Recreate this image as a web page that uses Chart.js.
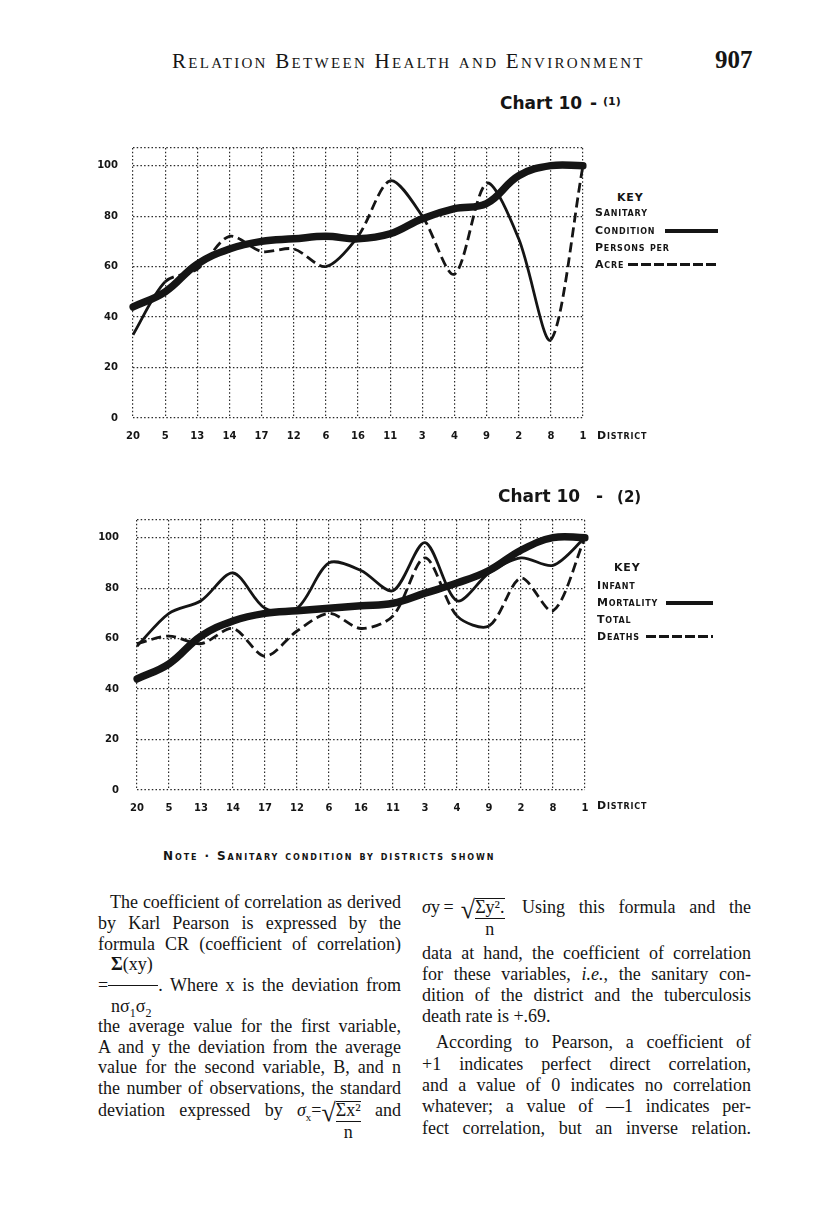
<!DOCTYPE html>
<html>
<head>
<meta charset="utf-8">
<script src="https://cdn.jsdelivr.net/npm/chart.js@4.4.1/dist/chart.umd.min.js"></script>
<style>
body { margin:0; background:#fff; }
#page { position:relative; width:816px; height:1231px; overflow:hidden; color:#151515; font-family:'Liberation Serif', serif; }
.abs { position:absolute; white-space:nowrap; }
canvas { position:absolute; }
.runhead { left:172px; top:49px; font-size:21px; font-variant:small-caps; letter-spacing:2.3px; }
.folio { left:715px; top:46px; font-size:25px; font-weight:bold; }
.title { font-family:'DejaVu Sans', sans-serif; font-weight:bold; font-size:17px; }
.title small { font-size:11px; vertical-align:4px; }
.key { font-family:'DejaVu Sans', sans-serif; font-weight:bold; font-size:11px; font-variant:small-caps; letter-spacing:0.8px; line-height:12px; }
.thick { position:absolute; height:4px; background:#151515; }
.dash { position:absolute; height:3px; background:repeating-linear-gradient(90deg,#151515 0 10px,transparent 10px 13px); }
.ln { position:absolute; height:20px; line-height:20px; font-size:18px; white-space:nowrap; }
.ln.l { left:98px; width:303px; }
.ln.r { left:422px; width:329px; }
.rule { display:inline-block; width:50px; border-top:1.6px solid #151515; vertical-align:5px; }
.root { font-size:26px; vertical-align:-5px; }
.over { position:relative; border-top:1.3px solid #151515; line-height:16px; display:inline-block; }
.den { position:absolute; left:0; right:0; top:19px; height:18px; line-height:20px; text-align:center; border-top:1.3px solid #151515; }
</style>
</head>
<body>
<div id="page">
  <div class="abs runhead">Relation Between Health and Environment</div>
  <div class="abs folio">907</div>

  <div class="abs title" style="left:500px; top:93px;">Chart 10 <span style="margin-left:2px">-</span> <small>(1)</small></div>
  <canvas id="chart1" width="510" height="333" style="left:90px; top:127px;"></canvas>
  <div class="abs key" style="left:617px; top:192px;">KEY</div>
  <div class="abs key" style="left:595px; top:207px;">Sanitary</div>
  <div class="abs key" style="left:595px; top:225px;">Condition</div>
  <div class="thick" style="left:665px; top:229px; width:53px;"></div>
  <div class="abs key" style="left:595px; top:242px;">Persons per</div>
  <div class="abs key" style="left:595px; top:259px;">Acre</div>
  <div class="dash" style="left:628px; top:263px; width:90px;"></div>
  <div class="abs key" style="left:597px; top:430px;">District</div>

  <div class="abs title" style="left:498px; top:486px;">Chart 10 <span style="margin-left:10px">-</span> <span style="margin-left:8px; font-size:15px">(2)</span></div>
  <canvas id="chart2" width="508" height="336" style="left:94px; top:496px;"></canvas>
  <div class="abs key" style="left:614px; top:562px;">KEY</div>
  <div class="abs key" style="left:597px; top:580px;">Infant</div>
  <div class="abs key" style="left:597px; top:597px;">Mortality</div>
  <div class="thick" style="left:666px; top:601px; width:47px;"></div>
  <div class="abs key" style="left:597px; top:614px;">Total</div>
  <div class="abs key" style="left:597px; top:631px;">Deaths</div>
  <div class="dash" style="left:646px; top:635px; width:67px;"></div>
  <div class="abs key" style="left:597px; top:800px;">District</div>

  <div class="abs key" style="left:163px; top:850px; font-size:12px; letter-spacing:1.9px;">Note · Sanitary condition by districts shown</div>

  <!-- left column -->
  <div class="ln l" style="top:892px; padding-left:12px; width:291px;">The coefficient of correlation as derived</div>
  <div class="ln l" style="top:913px;">by Karl Pearson is expressed by the</div>
  <div class="ln l" style="top:934px;">formula CR (coefficient of correlation)</div>
  <div class="ln l last" style="top:954px; padding-left:13px;"><b>Σ</b>(xy)</div>
  <div class="ln l" style="top:975px;">=<span class="rule"></span>. Where x is the deviation from</div>
  <div class="ln l last" style="top:996px; padding-left:13px;">nσ<sub style="font-size:12px">1</sub>σ<sub style="font-size:12px">2</sub></div>
  <div class="ln l" style="top:1016px;">the average value for the first variable,</div>
  <div class="ln l" style="top:1037px;">A and y the deviation from the average</div>
  <div class="ln l" style="top:1057px;">value for the second variable, B, and n</div>
  <div class="ln l" style="top:1078px;">the number of observations, the standard</div>
  <div class="ln l" style="top:1100px;">deviation expressed by <i>σ</i><sub style="font-size:11px">x</sub>=<span class="root">√</span><span class="over">Σx²<span class="den">n</span></span> and</div>

  <!-- right column -->
  <div class="ln r" style="top:897px;"><i>σ</i>y&#8201;=&#8201;&#8201;<span class="root">√</span><span class="over">Σy².<span class="den">n</span></span>&#8201; Using this formula and the</div>
  <div class="ln r" style="top:943px;">data at hand, the coefficient of correlation</div>
  <div class="ln r" style="top:964px;">for these variables, <i>i.e.</i>, the sanitary con-</div>
  <div class="ln r" style="top:985px;">dition of the district and the tuberculosis</div>
  <div class="ln r last" style="top:1006px;">death rate is +.69.</div>
  <div class="ln r" style="top:1032px; padding-left:14px; width:315px;">According to Pearson, a coefficient of</div>
  <div class="ln r" style="top:1054px;">+1 indicates perfect direct correlation,</div>
  <div class="ln r" style="top:1075px;">and a value of 0 indicates no correlation</div>
  <div class="ln r" style="top:1096px;">whatever; a value of —1 indicates per-</div>
  <div class="ln r" style="top:1118px;">fect correlation, but an inverse relation.</div>
</div>

<script>
// districts in the order they are plotted
var districts = ['20', '5', '13', '14', '17', '12', '6', '16', '11', '3', '4', '9', '2', '8', '1'];

// chart 10 (1)
var sanitaryCondition1 = [44, 50, 61, 67, 70, 71, 72, 71, 73, 79, 83, 85, 96, 100, 100];
var personsPerAcre = [33, 54, 59, 72, 66, 67, 60, 72, 94, 80, 57, 93, 71, 31, 100];

// chart 10 (2)
var sanitaryCondition2 = [44, 50, 61, 67, 70, 71, 72, 73, 74, 78, 82, 87, 95, 100, 100];
var infantMortality = [57, 70, 75, 86, 72, 72, 90, 87, 79, 98, 75, 86, 92, 89, 100];
var totalDeaths = [58, 61, 58, 64, 53, 63, 70, 64, 69, 92, 69, 65, 84, 71, 100];

// the hand drawn thin lines are partly solid, partly dashed
var personsSolidSegments = [true, false, false, false, false, false, true, false, true, false, false, true, true, false];
var deathsSolidSegments = [false, false, false, false, false, false, false, false, false, false, true, false, false, false];

var INK = '#151515';
var DASH = [10, 5];

function thickLine(values) {
	return { data: values, borderColor: INK, borderWidth: 7.5, tension: 0.4, borderCapStyle: 'round', borderJoinStyle: 'round' };
}

function thinLine(values, solidSegments) {
	var line = { data: values, borderColor: INK, borderWidth: 2.8, tension: 0.3 };
	if (solidSegments) {
		line.segment = { borderDash: function(c) { return solidSegments[c.p0DataIndex] ? [] : DASH; } };
	}
	return line;
}

function buildChart(canvasId, datasets, axisWidth, tickPad) {
	var tickFont = { family: 'DejaVu Sans', weight: 'bold', size: 10 };
	var gridOpts = { color: '#2a2a2a', lineWidth: 1.2, drawTicks: false };
	var borderOpts = { display: false, dash: [1.5, 2.2] };

	return new Chart(document.getElementById(canvasId), {
		type: 'line',
		data: { labels: districts, datasets: datasets },
		options: {
			responsive: false,
			animation: false,
			events: [],
			layout: { padding: { left: 0, top: 14, right: 17, bottom: 0 } },
			plugins: { legend: { display: false }, tooltip: { enabled: false } },
			elements: { point: { radius: 0 } },
			scales: {
				x: {
					offset: false,
					grid: gridOpts,
					border: borderOpts,
					ticks: { color: INK, font: tickFont, padding: 12, autoSkip: false, maxRotation: 0 },
					afterFit: function(scale) { scale.height = 42; }
				},
				y: {
					min: 0, max: 107,
					grid: gridOpts,
					border: borderOpts,
					ticks: {
						stepSize: 20, color: INK, font: tickFont, padding: tickPad,
						callback: function(v) { return v % 20 === 0 ? v : ''; }
					},
					afterFit: function(scale) { scale.width = axisWidth; }
				}
			}
		}
	});
}

buildChart('chart1', [thickLine(sanitaryCondition1), thinLine(personsPerAcre, personsSolidSegments)], 43, 15);
buildChart('chart2', [thickLine(sanitaryCondition2), thinLine(infantMortality, null), thinLine(totalDeaths, deathsSolidSegments)], 43, 18);

// justify each text line to its column by spreading the word spaces
var lines = document.querySelectorAll('.ln');
for (var i = 0; i < lines.length; i++) {
	var el = lines[i];
	if (el.classList.contains('last')) continue;
	var inner = document.createElement('span');
	while (el.firstChild) inner.appendChild(el.firstChild);
	el.appendChild(inner);
	var pad = parseFloat(getComputedStyle(el).paddingLeft) || 0;
	var room = el.clientWidth - pad;
	var spaces = (inner.textContent.match(/ /g) || []).length;
	if (spaces > 0) {
		el.style.wordSpacing = ((room - inner.getBoundingClientRect().width) / spaces) + 'px';
	}
}
</script>
</body>
</html>
